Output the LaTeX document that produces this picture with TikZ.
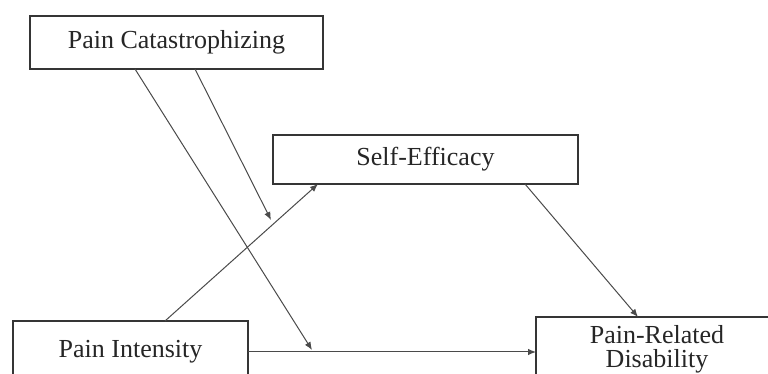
\documentclass[tikz,border=0pt]{standalone}
\usepackage{fontspec}
\setmainfont{Liberation Serif}
\usetikzlibrary{arrows.meta}
\definecolor{boxline}{HTML}{353535}
\definecolor{arrline}{HTML}{4A4A4A}
\definecolor{txt}{HTML}{262626}
\begin{document}
\begin{tikzpicture}[x=1pt,y=1pt,
  varbox/.style={draw=boxline, line width=1.5pt, fill=white, inner sep=0pt,
    text=txt, font=\fontsize{26}{26}\selectfont, align=center},
  path/.style={draw=arrline, line width=1pt, -{Latex[length=8pt,width=6.5pt]}}]
\useasboundingbox (0,0) rectangle (768,374);
\clip (0,0) rectangle (768,374);
\node[varbox, minimum width=293pt, minimum height=53pt] (pc) at (176.5,331.5) {Pain Catastrophizing};
\node[varbox, minimum width=305pt, minimum height=49pt] (se) at (425.5,214.5) {Self-Efficacy};
\node[varbox, minimum width=235pt, minimum height=62pt] (pi) at (130.5,22) {Pain Intensity};
\node[varbox, minimum width=242pt, minimum height=65pt] (prd) at (657,24.5) {Pain-Related\\[-2pt]Disability};
\coordinate (c1s) at (135,305);
\coordinate (c2s) at (195,305);
\coordinate (c1e) at (312,24);
\coordinate (c2e) at (271,154);
\coordinate (pis) at (165,53);
\coordinate (see) at (318,190);
\coordinate (ses) at (525,190);
\coordinate (prde) at (638,57);
\coordinate (pir) at (248,22);
\coordinate (prdl) at (536,22);
\draw[path] (pir) -- (prdl);
\draw[path] (pis) -- (see);
\draw[path] (ses) -- (prde);
\draw[path] (c1s) -- (c1e);
\draw[path] (c2s) -- (c2e);
\end{tikzpicture}
\end{document}
